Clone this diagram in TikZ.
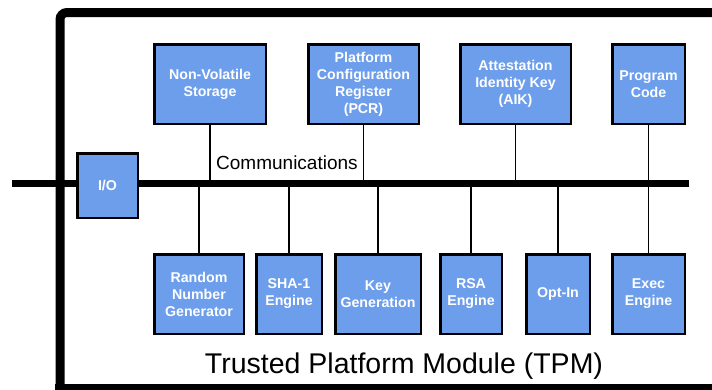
\documentclass[tikz,border=0pt]{standalone}
\usepackage{fontspec}
\setmainfont{Liberation Sans}
\begin{document}
\begin{tikzpicture}[x=1pt,y=-1pt,
  block/.style={draw=black, line width=2.5pt, fill=boxblue, inner sep=0pt,
    text=white, align=center, font=\fontsize{14.2}{17}\selectfont\bfseries},
  link/.style={line width=1.8pt},
  busline/.style={line width=7pt},
  frameline/.style={line width=9pt, rounded corners=7pt},
  label/.style={inner sep=0pt}]
\definecolor{boxblue}{HTML}{6D9EEB}
\useasboundingbox (0,0) rectangle (712,389);

% module frame (open to the right and bottom)
\draw[frameline] (60,400) -- (60,12.5) -- (730,12.5);
\draw[line width=9pt] (55,388) -- (730,388);

% communications bus
\coordinate (busL) at (12,183.5);
\coordinate (busR) at (689,183.5);
\draw[busline] (busL) -- (busR);
\node[label, anchor=base west, font=\fontsize{19}{22}\selectfont] (comm) at (216,169) {Communications};

% top row
\node[block, minimum width=111.5pt, minimum height=79.5pt] (nv)  at (210,84) {Non-Volatile\\Storage};
\node[block, minimum width=110.5pt, minimum height=79.5pt] (pcr) at (363.5,84) {Platform\\Configuration\\Register\\(PCR)};
\node[block, minimum width=110.5pt, minimum height=79.5pt] (aik) at (515.5,84) {Attestation\\Identity Key\\(AIK)};
\node[block, minimum width=72.5pt,  minimum height=79.5pt] (pc)  at (648.5,84) {Program\\Code};

% I/O
\node[block, minimum width=60.5pt, minimum height=64.5pt] (io) at (107.5,185.5) {I/O};

% bottom row
\node[block, minimum width=89.5pt, minimum height=79.5pt] (rng) at (199,294) {Random\\Number\\Generator};
\node[block, minimum width=65.5pt, minimum height=79.5pt] (sha) at (289,294) {SHA-1\\Engine};
\node[block, minimum width=85.5pt, minimum height=79.5pt] (kg)  at (378,294) {Key\\Generation};
\node[block, minimum width=61.5pt, minimum height=79.5pt] (rsa) at (471,294) {RSA\\Engine};
\node[block, minimum width=63.5pt, minimum height=79.5pt] (opt) at (558,294) {Opt-In};
\node[block, minimum width=72.5pt, minimum height=79.5pt] (ex)  at (648.5,294) {Exec\\Engine};

% connectors to the bus
\foreach \n in {nv,pcr,aik,pc}
  \draw[link] (\n.south) -- (\n.south |- busL);
\foreach \n in {rng,sha,kg,rsa,opt,ex}
  \draw[link] (\n.north) -- (\n.north |- busL);

\node[label, anchor=base, font=\fontsize{28.5}{32}\selectfont] (title) at (404,373) {Trusted Platform Module (TPM)};
\end{tikzpicture}
\end{document}
